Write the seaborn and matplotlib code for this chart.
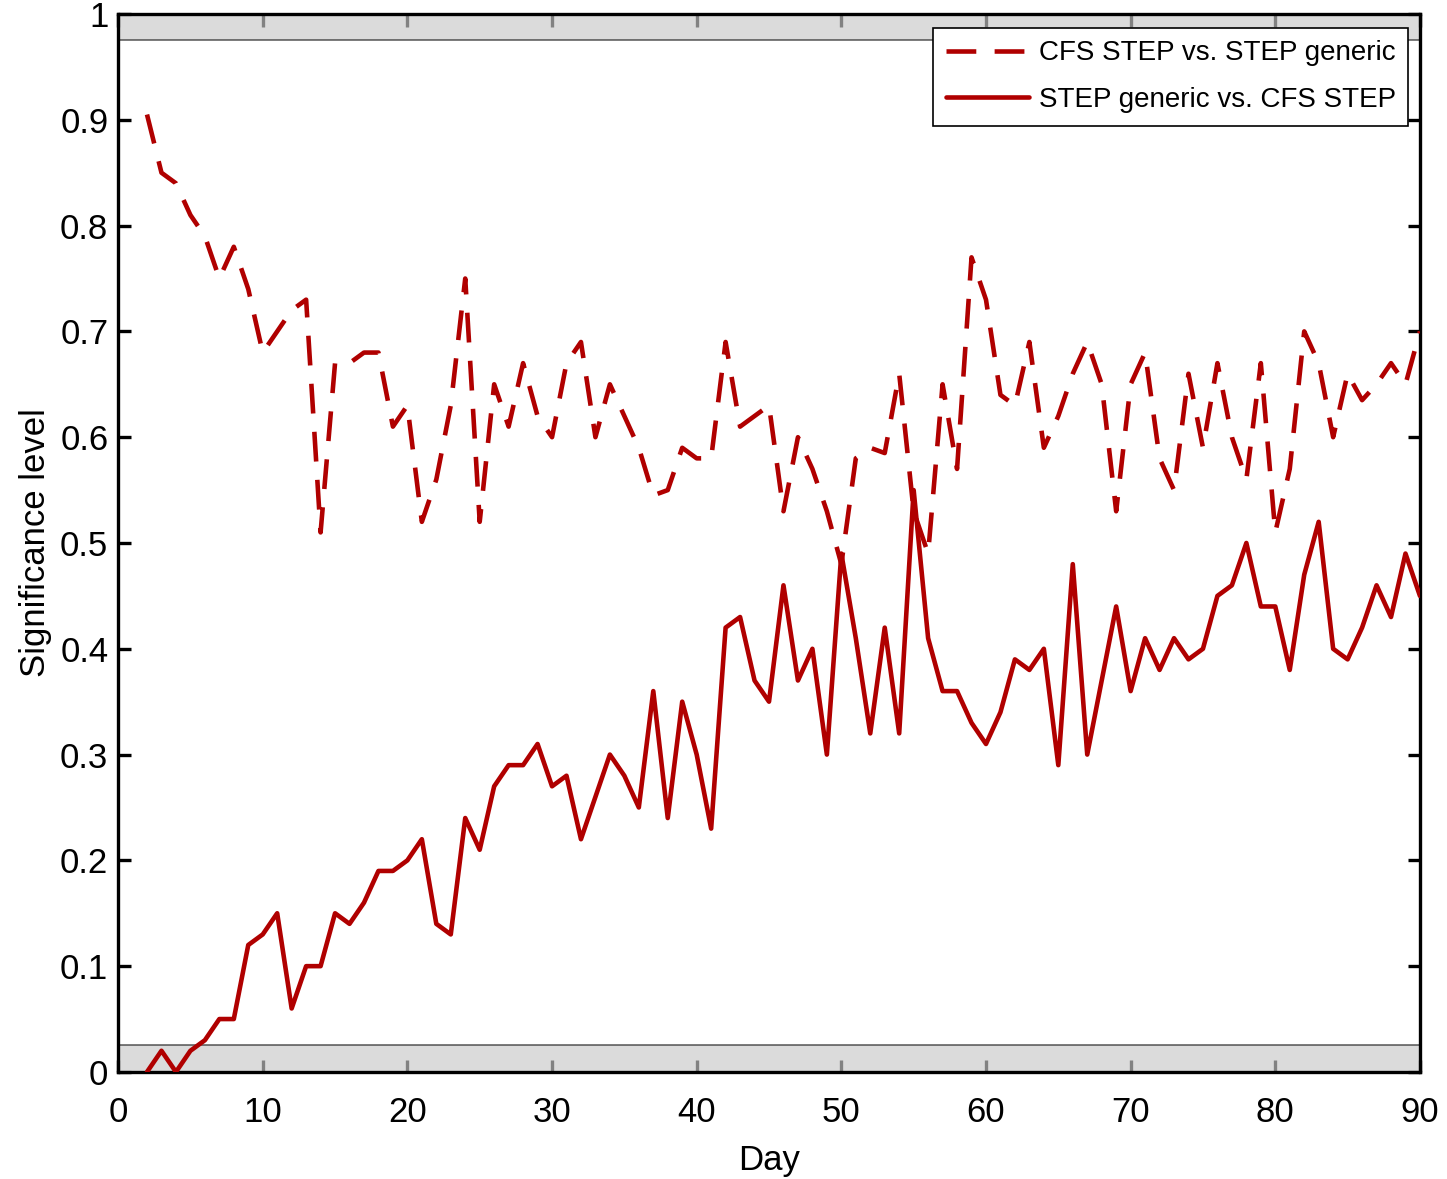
import pandas as pd
import matplotlib
matplotlib.use('Agg')
import matplotlib.pyplot as plt
import seaborn as sns

# Daily significance levels (days 2..90)
days = list(range(2, 91))

cfs_vs_generic = [
    0.905, 0.85, 0.84, 0.81, 0.79, 0.75, 0.78, 0.74, 0.68, 0.70,
    0.72, 0.73, 0.51, 0.67, 0.67, 0.68, 0.68, 0.61, 0.63, 0.52,
    0.56, 0.63, 0.75, 0.52, 0.65, 0.61, 0.67, 0.62, 0.60, 0.67,
    0.69, 0.60, 0.65, 0.62, 0.59, 0.545, 0.55, 0.59, 0.58, 0.58,
    0.69, 0.61, 0.62, 0.63, 0.53, 0.60, 0.57, 0.53, 0.48, 0.58,
    0.59, 0.585, 0.66, 0.53, 0.49, 0.65, 0.57, 0.77, 0.73, 0.64,
    0.63, 0.69, 0.59, 0.62, 0.66, 0.69, 0.65, 0.53, 0.65, 0.68,
    0.58, 0.55, 0.66, 0.59, 0.67, 0.60, 0.56, 0.67, 0.51, 0.57,
    0.70, 0.67, 0.60, 0.66, 0.635, 0.65, 0.67, 0.65, 0.70,
]

generic_vs_cfs = [
    0.00, 0.02, 0.00, 0.02, 0.03, 0.05, 0.05, 0.12, 0.13, 0.15,
    0.06, 0.10, 0.10, 0.15, 0.14, 0.16, 0.19, 0.19, 0.20, 0.22,
    0.14, 0.13, 0.24, 0.21, 0.27, 0.29, 0.29, 0.31, 0.27, 0.28,
    0.22, 0.26, 0.30, 0.28, 0.25, 0.36, 0.24, 0.35, 0.30, 0.23,
    0.42, 0.43, 0.37, 0.35, 0.46, 0.37, 0.40, 0.30, 0.49, 0.41,
    0.32, 0.42, 0.32, 0.55, 0.41, 0.36, 0.36, 0.33, 0.31, 0.34,
    0.39, 0.38, 0.40, 0.29, 0.48, 0.30, 0.37, 0.44, 0.36, 0.41,
    0.38, 0.41, 0.39, 0.40, 0.45, 0.46, 0.50, 0.44, 0.44, 0.38,
    0.47, 0.52, 0.40, 0.39, 0.42, 0.46, 0.43, 0.49, 0.45,
]

x_ticks = list(range(0, 91, 10))
y_ticks = [i / 10 for i in range(11)]
y_tick_labels = ['0', '0.1', '0.2', '0.3', '0.4', '0.5', '0.6', '0.7', '0.8', '0.9', '1']

sns.set_style("ticks")
plt.rcParams['font.family'] = ['Liberation Sans', 'DejaVu Sans']
plt.rcParams['axes.axisbelow'] = True
plt.rcParams['text.color'] = 'black'
plt.rcParams['axes.labelcolor'] = 'black'

red = '#B00000'

fig = plt.figure(figsize=(14.47, 11.79), dpi=100)
ax = fig.add_axes([0.0816, 0.0908, 0.8997, 0.8973])

# shaded significance bands
ax.axhspan(0, 0.025, facecolor='#c9c9c9', alpha=0.65, edgecolor='#333333', lw=1.4, zorder=1)
ax.axhspan(0.975, 1, facecolor='#c9c9c9', alpha=0.65, edgecolor='#333333', lw=1.4, zorder=1)

df1 = pd.DataFrame({'Day': days, 'Significance level': cfs_vs_generic})
df2 = pd.DataFrame({'Day': days, 'Significance level': generic_vs_cfs})

sns.lineplot(data=df1, x='Day', y='Significance level', ax=ax, color=red,
             lw=3.3, linestyle=(0, (6.5, 4)), label='CFS STEP vs. STEP generic', zorder=3)
sns.lineplot(data=df2, x='Day', y='Significance level', ax=ax, color=red,
             lw=3.3, label='STEP generic vs. CFS STEP', zorder=3)

ax.set_xlim(0, 90)
ax.set_ylim(0, 1)
ax.set_xticks(x_ticks)
ax.set_yticks(y_ticks)
ax.set_yticklabels(y_tick_labels)

ax.tick_params(axis='both', direction='in', length=9, width=2.4, labelsize=25,
               top=True, right=True, colors='black')
ax.tick_params(axis='x', pad=17)
ax.tick_params(axis='y', pad=7)
for sp in ax.spines.values():
    sp.set_visible(True)
    sp.set_linewidth(2.4)
    sp.set_color('black')

ax.set_xlabel('Day', fontsize=25, labelpad=11)
ax.set_ylabel('Significance level', fontsize=25, labelpad=6)

leg = ax.legend(loc='upper right', bbox_to_anchor=(0.991, 0.987), borderaxespad=0,
                fontsize=20, frameon=True, fancybox=False, shadow=False,
                handlelength=3.0, handletextpad=0.35, labelspacing=0.75,
                borderpad=0.45)
leg.get_frame().set_edgecolor('black')
leg.get_frame().set_linewidth(1.2)
leg.get_frame().set_facecolor('white')
leg.get_frame().set_alpha(1)
leg.set_zorder(5)
for t in leg.get_texts():
    t.set_color('black')

fig.savefig('out.png', dpi=100)
